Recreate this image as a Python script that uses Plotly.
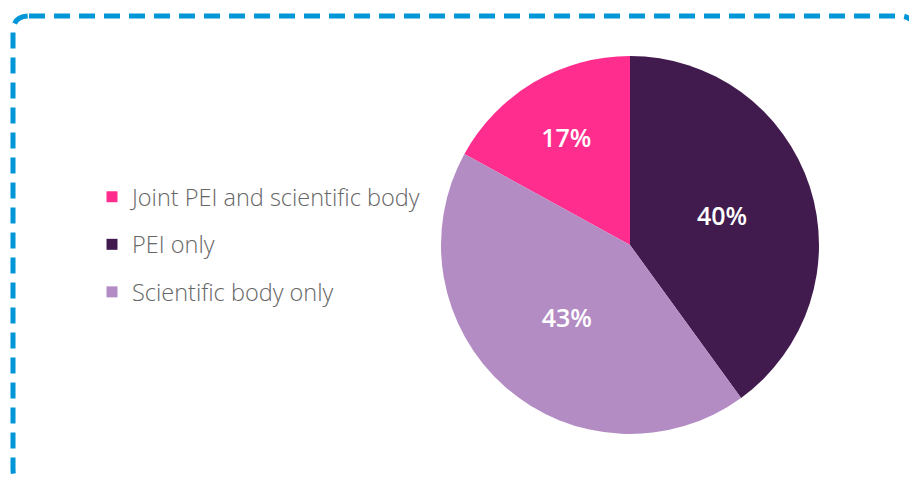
import plotly.graph_objects as go

labels = ["Joint PEI and scientific body", "PEI only", "Scientific body only"]
values = [17, 40, 43]
colors = ["#FF2E8E", "#421B4E", "#B38CC4"]

W, H = 909, 479

fig = go.Figure()
fig.add_trace(go.Pie(
    labels=labels, values=values, sort=False, direction="clockwise",
    rotation=-360 * values[0] / sum(values),
    marker=dict(colors=colors, line=dict(width=0)),
    texttemplate="%{percent:.0%}", textinfo="percent",
    textposition="inside", insidetextorientation="horizontal",
    textfont=dict(color="white", size=25, family="Open Sans", weight=600),
    domain=dict(x=[441 / W, 819 / W], y=[1 - 434 / H, 1 - 56 / H]),
    showlegend=False, hoverinfo="label+percent",
))

# legend entries (one group per category for spacing)
for lab, col in zip(labels, colors):
    fig.add_trace(go.Scatter(
        x=[None], y=[None], mode="markers", name=lab,
        marker=dict(symbol="square", size=11, color=col),
        legendgroup=lab, showlegend=True,
    ))

# dashed rounded frame
r = 16
x0, y0 = 13, 16
x1, y1 = W + 6, H + 6
path = (f"M {x0+r},{y0} L {x1-r},{y0} Q {x1},{y0} {x1},{y0+r} "
        f"L {x1},{y1-r} Q {x1},{y1} {x1-r},{y1} L {x0+r},{y1} "
        f"Q {x0},{y1} {x0},{y1-r} L {x0},{y0+r} Q {x0},{y0} {x0+r},{y0} Z")
fig.add_shape(type="path", xref="x", yref="y", path=path,
              line=dict(color="#0096D8", width=5, dash="16px,9px"), layer="above")

fig.update_layout(
    width=W, height=H, margin=dict(l=0, r=0, t=0, b=0),
    paper_bgcolor="white", plot_bgcolor="rgba(0,0,0,0)",
    xaxis=dict(range=[0, W], visible=False, domain=[0, 1], fixedrange=True),
    yaxis=dict(range=[H, 0], visible=False, domain=[0, 1], fixedrange=True),
    legend=dict(x=92 / W, xanchor="left", y=1 - 175 / H, yanchor="top",
                font=dict(family="Open Sans", size=23.5, color="#666666", weight=300),
                tracegroupgap=14, bgcolor="rgba(0,0,0,0)", itemclick=False),
    showlegend=True,
)

fig.write_html("out.html")
